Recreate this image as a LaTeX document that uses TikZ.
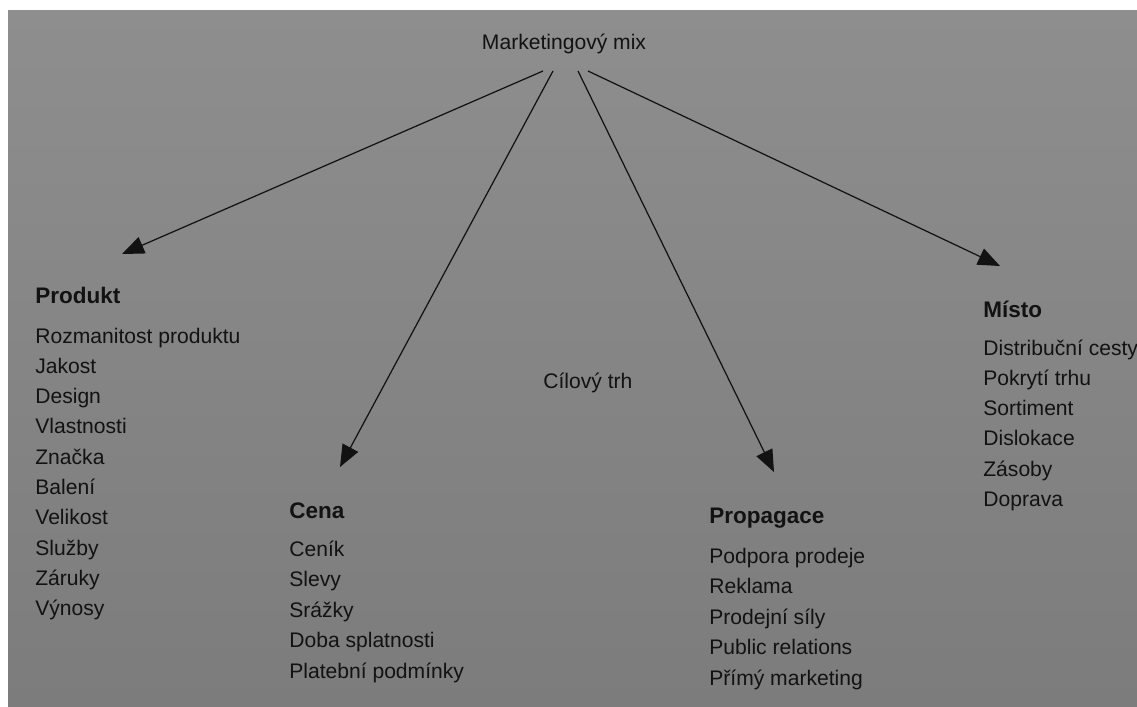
\documentclass[tikz,border=0pt]{standalone}
\usepackage{fontspec}
\setmainfont{Liberation Sans}
\usepackage{tikz}
\usetikzlibrary{arrows.meta,calc}

\definecolor{paperTop}{RGB}{142,142,142}
\definecolor{paperBot}{RGB}{124,124,124}
\definecolor{ink}{RGB}{18,18,18}

\tikzset{
    head/.style={anchor=base west, inner sep=0pt, text=ink, font=\fontsize{12.8}{15}\selectfont\bfseries},
    item/.style={anchor=base west, inner sep=0pt, text=ink, font=\fontsize{12}{14}\selectfont},
    arr/.style={draw=ink, line width=0.7pt, -{Triangle[length=12.5pt, width=10pt]}}
}

\begin{document}
\begin{tikzpicture}[x=0.02cm, y=-0.02cm]
        \useasboundingbox (0,0) rectangle (1137,707);
        \fill[white] (0,0) rectangle (1137,707);
        \shade[top color=paperTop, bottom color=paperBot] (8,10) rectangle (1137,707);

        \node[item, anchor=base] (mix) at (564,49) {Marketingový mix};
        \node[item] (trh) at (543,388) {Cílový trh};

        \coordinate (tipProdukt) at (122,254);
        \coordinate (tipCena) at (340,467);
        \coordinate (tipPropagace) at (774,472);
        \coordinate (tipMisto) at (1000,266);

        \draw[arr] ($(mix.base)+(-21,22)$) -- (tipProdukt);
        \draw[arr] ($(mix.base)+(-11,22)$) -- (tipCena);
        \draw[arr] ($(mix.base)+(14,22)$) -- (tipPropagace);
        \draw[arr] ($(mix.base)+(24,22)$) -- (tipMisto);

        % Produkt
        \node[head] (produkt) at (35,303) {Produkt};
        \foreach \t [count=\i from 0] in {Rozmanitost produktu, Jakost, Design, Vlastnosti, Značka, Balení, Velikost, Služby, Záruky, Výnosy}
            \node[item] (produkt-\i) at (35,{343+30.3*\i}) {\t};

        % Cena
        \node[head] (cena) at (289,518) {Cena};
        \foreach \t [count=\i from 0] in {Ceník, Slevy, Srážky, Doba splatnosti, Platební podmínky}
            \node[item] (cena-\i) at (289,{556+30.5*\i}) {\t};

        % Propagace
        \node[head] (propagace) at (709,523) {Propagace};
        \foreach \t [count=\i from 0] in {Podpora prodeje, Reklama, Prodejní síly, Public relations, Přímý marketing}
            \node[item] (propagace-\i) at (709,{563+30.5*\i}) {\t};

        % Misto
        \node[head] (misto) at (983,317) {Místo};
        \foreach \t [count=\i from 0] in {Distribuční cesty, Pokrytí trhu, Sortiment, Dislokace, Zásoby, Doprava}
            \node[item] (misto-\i) at (983,{355+30.3*\i}) {\t};
    \end{tikzpicture}
\end{document}
